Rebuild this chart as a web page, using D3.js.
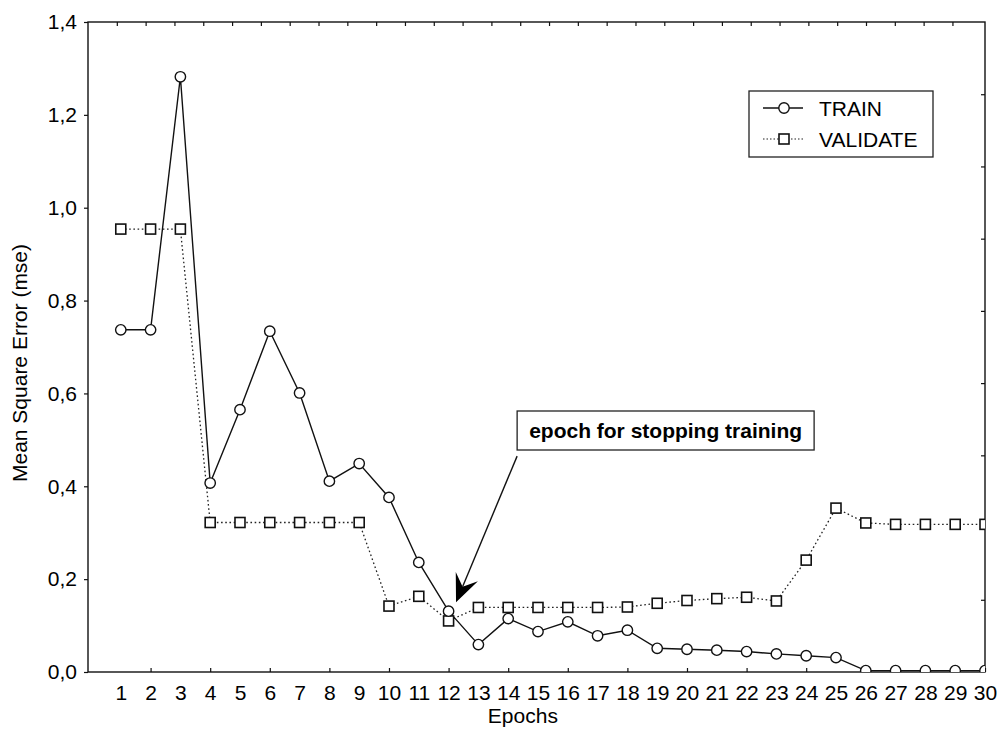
<!DOCTYPE html>
<html>
<head>
<meta charset="utf-8">
<script src="https://cdn.jsdelivr.net/npm/d3@7"></script>
<style>
  html, body { margin: 0; padding: 0; background: #fff; }
  svg { display: block; font-family: "Liberation Sans", Arial, Helvetica, sans-serif; }
</style>
</head>
<body>
<svg id="chart" width="998" height="742"></svg>
<script>
// ---- data ----
const epochs = d3.range(1, 31);
const trainMSE = [0.737, 0.737, 1.282, 0.407, 0.565, 0.734, 0.601, 0.411, 0.449, 0.376,
                  0.236, 0.131, 0.059, 0.115, 0.087, 0.108, 0.078, 0.090, 0.051, 0.049,
                  0.047, 0.044, 0.039, 0.035, 0.031, 0.003, 0.003, 0.003, 0.003, 0.003];
const validateMSE = [0.954, 0.954, 0.954, 0.322, 0.322, 0.322, 0.322, 0.322, 0.322, 0.142,
                     0.163, 0.110, 0.139, 0.139, 0.139, 0.139, 0.139, 0.140, 0.148, 0.154,
                     0.158, 0.161, 0.153, 0.241, 0.353, 0.321, 0.318, 0.318, 0.318, 0.318];
const yTicks = [0, 0.2, 0.4, 0.6, 0.8, 1.0, 1.2, 1.4];
const xTickLabels = epochs;
const xTickMarks = d3.range(2, 31, 2);
const topTickMarks = d3.range(1, 31);
const rightTickMarks = d3.range(1, 9);
const seriesNames = ["TRAIN", "VALIDATE"];
const annotationText = "epoch for stopping training";
// annotation anchor (data coords): arrow tip and start
const arrowTip = { epoch: 12.25, value: 0.150 };
const arrowStart = { epoch: 14.3, value: 0.465 };

// ---- layout ----
const L = 88, R = 985, T = 22, B = 672;
const svg = d3.select("#chart");
const x = d3.scaleLinear().domain([-0.1, 30]).range([L, R]);
const y = d3.scaleLinear().domain([0, 1.4]).range([B, T]);
const xTop = d3.scaleLinear().domain([0, 31.13]).range([L, R]);
const yRight = d3.scaleLinear().domain([0, 9]).range([B, T]);
const fmt = d => d3.format(".1f")(d).replace(".", ",");

svg.append("defs").append("clipPath").attr("id", "plotclip")
  .append("rect").attr("x", L).attr("y", T).attr("width", R - L).attr("height", B - T);

// axes
const gL = svg.append("g").attr("transform", `translate(${L},0)`)
  .call(d3.axisLeft(y).tickValues(yTicks).tickFormat(fmt).tickSize(4).tickPadding(7));
const gB = svg.append("g").attr("transform", `translate(0,${B})`)
  .call(d3.axisBottom(x).tickValues(xTickMarks).tickFormat("").tickSizeInner(-4).tickSizeOuter(0));
const gBl = svg.append("g").attr("transform", `translate(0,${B})`)
  .call(d3.axisBottom(x).tickValues(xTickLabels).tickSize(0).tickPadding(13));
const gT = svg.append("g").attr("transform", `translate(0,${T})`)
  .call(d3.axisTop(xTop).tickValues(topTickMarks).tickFormat("").tickSizeInner(-4).tickSizeOuter(0));
const gR = svg.append("g").attr("transform", `translate(${R},0)`)
  .call(d3.axisRight(yRight).tickValues(rightTickMarks).tickFormat("").tickSizeInner(-4).tickSizeOuter(0));
[gL, gB, gBl, gT, gR].forEach(g => {
  g.select(".domain").remove();
  g.selectAll("line").attr("stroke", "#111").attr("stroke-width", 1.2);
  g.selectAll("text").attr("fill", "#000").style("font-size", "21px")
    .style("font-family", '"Liberation Sans", Arial, sans-serif');
});
gBl.selectAll("line").remove();

// frame
svg.append("rect").attr("x", L).attr("y", T).attr("width", R - L).attr("height", B - T)
  .attr("fill", "none").attr("stroke", "#111").attr("stroke-width", 1.4);

// axis titles
svg.append("text").attr("x", (x(1) + x(30)) / 2 - 30).attr("y", 723).attr("text-anchor", "middle")
  .style("font-size", "21px").text("Epochs");
svg.append("text").attr("transform", `translate(27,${(T + B) / 2 + 16}) rotate(-90)`)
  .attr("text-anchor", "middle").style("font-size", "21px").text("Mean Square Error (mse)");

// series
const plot = svg.append("g").attr("clip-path", "url(#plotclip)");
const trainPts = epochs.map((e, i) => [e, trainMSE[i]]);
const valPts = epochs.map((e, i) => [e, validateMSE[i]]);
const line = d3.line().x(d => x(d[0])).y(d => y(d[1]));

plot.append("path").datum(valPts).attr("d", line).attr("fill", "none")
  .attr("stroke", "#222").attr("stroke-width", 1.3).attr("stroke-dasharray", "1.6,2.6");
plot.append("path").datum(trainPts).attr("d", line).attr("fill", "none")
  .attr("stroke", "#111").attr("stroke-width", 1.4);

const sq = 10;
plot.selectAll("rect.val").data(valPts).join("rect").attr("class", "val")
  .attr("x", d => x(d[0]) - sq / 2).attr("y", d => y(d[1]) - sq / 2)
  .attr("width", sq).attr("height", sq)
  .attr("fill", "#fff").attr("stroke", "#111").attr("stroke-width", 1.6);
plot.selectAll("circle.tr").data(trainPts).join("circle").attr("class", "tr")
  .attr("cx", d => x(d[0])).attr("cy", d => y(d[1])).attr("r", 5.2)
  .attr("fill", "#fff").attr("stroke", "#111").attr("stroke-width", 1.4);

// legend
const lg = svg.append("g");
lg.append("rect").attr("x", 749).attr("y", 91).attr("width", 184).attr("height", 66)
  .attr("fill", "#fff").attr("stroke", "#222").attr("stroke-width", 1.3);
lg.append("line").attr("x1", 763).attr("x2", 803).attr("y1", 108).attr("y2", 108)
  .attr("stroke", "#111").attr("stroke-width", 1.3);
lg.append("circle").attr("cx", 784).attr("cy", 108).attr("r", 5.2)
  .attr("fill", "#fff").attr("stroke", "#111").attr("stroke-width", 1.4);
lg.append("line").attr("x1", 763).attr("x2", 803).attr("y1", 139).attr("y2", 139)
  .attr("stroke", "#222").attr("stroke-width", 1.2).attr("stroke-dasharray", "1.5,2");
lg.append("rect").attr("x", 784 - sq / 2).attr("y", 139 - sq / 2).attr("width", sq).attr("height", sq)
  .attr("fill", "#fff").attr("stroke", "#111").attr("stroke-width", 1.6);
lg.append("text").attr("x", 819).attr("y", 115.5).style("font-size", "21px").text(seriesNames[0]);
lg.append("text").attr("x", 819).attr("y", 147).style("font-size", "21px").text(seriesNames[1]);

// annotation
const bx = x(arrowStart.epoch), by = 411;
const ann = svg.append("g");
const at = ann.append("text").attr("x", bx + 12).attr("y", by + 26.5)
  .style("font-size", "21px").style("font-weight", "bold").text(annotationText);
const tw = at.node().getComputedTextLength();
ann.insert("rect", "text").attr("x", bx).attr("y", by).attr("width", tw + 24).attr("height", 39)
  .attr("fill", "#fff").attr("stroke", "#222").attr("stroke-width", 1.3);

const sx = x(arrowStart.epoch), sy = y(arrowStart.value);
const tx = x(arrowTip.epoch), ty = y(arrowTip.value);
const dx = tx - sx, dy = ty - sy, len = Math.hypot(dx, dy);
const ux = dx / len, uy = dy / len, px = -uy, py = ux;
const headLen = 28, headW = 12, notch = 17;
ann.append("line").attr("x1", sx).attr("y1", sy)
  .attr("x2", tx - ux * notch).attr("y2", ty - uy * notch)
  .attr("stroke", "#111").attr("stroke-width", 1.4);
const head = [
  [tx, ty],
  [tx - ux * headLen + px * headW, ty - uy * headLen + py * headW],
  [tx - ux * notch, ty - uy * notch],
  [tx - ux * headLen - px * headW, ty - uy * headLen - py * headW]
];
ann.append("path").attr("d", "M" + head.map(p => p.join(",")).join("L") + "Z").attr("fill", "#000");
</script>
</body>
</html>
